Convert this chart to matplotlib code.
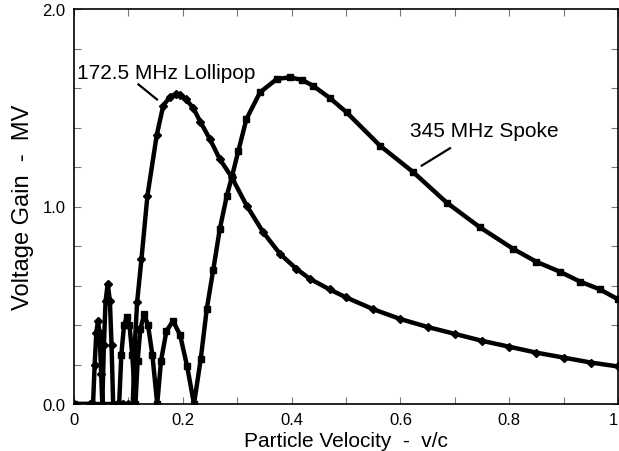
import numpy as np
import matplotlib.pyplot as plt
from matplotlib.ticker import MultipleLocator, FixedLocator, FixedFormatter

plt.rcParams['font.family'] = ['Liberation Sans', 'DejaVu Sans']

# 172.5 MHz lollipop: velocity (v/c) and voltage gain (MV)
lolli_v = [0.0, 0.030, 0.035, 0.038, 0.041, 0.044, 0.047, 0.050, 0.052,
           0.055, 0.058, 0.062, 0.066, 0.069, 0.072, 0.080, 0.090, 0.100,
           0.108, 0.112, 0.116, 0.124, 0.135, 0.152, 0.164, 0.176, 0.1875,
           0.195, 0.205, 0.219, 0.232, 0.250, 0.268, 0.290, 0.3175, 0.348,
           0.379, 0.409, 0.434, 0.47, 0.50, 0.55, 0.60, 0.65, 0.70, 0.75,
           0.80, 0.85, 0.90, 0.95, 1.0]
lolli_g = [0.0, 0.0, 0.0, 0.20, 0.36, 0.42, 0.36, 0.15, 0.0,
           0.30, 0.52, 0.61, 0.52, 0.30, 0.0, 0.0, 0.0, 0.0,
           0.0, 0.31, 0.515, 0.734, 1.055, 1.36, 1.51, 1.555, 1.57,
           1.565, 1.545, 1.50, 1.43, 1.34, 1.24, 1.148, 1.004, 0.869,
           0.759, 0.684, 0.633, 0.58, 0.54, 0.48, 0.43, 0.39, 0.355, 0.32,
           0.29, 0.26, 0.235, 0.21, 0.19]

# 345 MHz spoke
spoke_v = [0.0, 0.083, 0.087, 0.092, 0.097, 0.102, 0.107, 0.113,
           0.117, 0.122, 0.129, 0.136, 0.144, 0.153,
           0.160, 0.170, 0.182, 0.195, 0.208, 0.2206,
           0.233, 0.244, 0.256, 0.268, 0.281, 0.290, 0.302, 0.317, 0.342,
           0.373, 0.397, 0.42, 0.44, 0.47, 0.501, 0.5625, 0.624, 0.685,
           0.746, 0.8076, 0.85, 0.893, 0.93, 0.967, 1.0]
spoke_g = [0.0, 0.0, 0.25, 0.40, 0.44, 0.40, 0.25, 0.0,
           0.22, 0.38, 0.455, 0.40, 0.25, 0.0,
           0.22, 0.37, 0.42, 0.35, 0.19, 0.0,
           0.228, 0.48, 0.68, 0.886, 1.055, 1.148, 1.28, 1.443, 1.578,
           1.646, 1.654, 1.64, 1.61, 1.55, 1.477, 1.308, 1.173, 1.02,
           0.895, 0.785, 0.72, 0.67, 0.62, 0.58, 0.53]

fig = plt.figure(figsize=(6.19, 4.52), dpi=100)
ax = fig.add_axes([74 / 619, 1 - 405 / 452, 544 / 619, 395 / 452])

ax.plot(lolli_v, lolli_g, color='black', lw=3.2, marker='D', ms=3.6,
        solid_joinstyle='round', clip_on=True)
ax.plot(spoke_v, spoke_g, color='black', lw=3.2, marker='s', ms=3.8,
        solid_joinstyle='round', clip_on=True)

ax.set_xlim(0, 1)
ax.set_ylim(0, 2)

ax.xaxis.set_major_locator(FixedLocator([0, 0.2, 0.4, 0.6, 0.8, 1.0]))
ax.xaxis.set_major_formatter(FixedFormatter(['0', '0.2', '0.4', '0.6', '0.8', '1']))
ax.xaxis.set_minor_locator(MultipleLocator(0.1))
ax.yaxis.set_major_locator(FixedLocator([0, 1, 2]))
ax.yaxis.set_major_formatter(FixedFormatter(['0.0', '1.0', '2.0']))
ax.yaxis.set_minor_locator(MultipleLocator(0.2))

ax.tick_params(which='both', direction='in', top=True, right=True,
               length=5, width=0.8, color='#777777', labelsize=12, pad=6)
ax.get_xticklabels()[-1].set_horizontalalignment('right')
for s in ax.spines.values():
    s.set_linewidth(1.2)

ax.set_xlabel('Particle Velocity  -  v/c', fontsize=15, labelpad=3)
ax.set_ylabel('Voltage Gain  -  MV', fontsize=17, labelpad=6)

ax.text(0.006, 1.68, '172.5 MHz Lollipop', fontsize=15, va='center')
ax.plot([0.1185, 0.1525], [1.618, 1.542], color='black', lw=1.6)
ax.text(0.618, 1.385, '345 MHz Spoke', fontsize=15, va='center')
ax.plot([0.6912, 0.6393], [1.295, 1.207], color='black', lw=1.6)

fig.savefig('out.png', dpi=100)
